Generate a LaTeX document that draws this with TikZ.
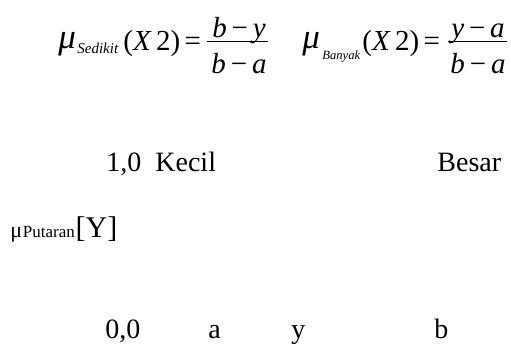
\documentclass[tikz,border=0pt]{standalone}
\usepackage{fontspec}
\setmainfont{Liberation Serif}
\usepackage{tikz}

\begin{document}
\begin{tikzpicture}[x=0.5pt, y=-0.5pt,
    txt/.style={anchor=base west, inner sep=0pt, font=\fontsize{14}{16}\selectfont},
    frm/.style={anchor=base west, inner sep=0pt, font=\fontsize{14.5}{17}\selectfont},
    fracpart/.style={anchor=base, inner sep=0pt, font=\fontsize{14.5}{17}\selectfont},
    greek/.style={anchor=base west, inner sep=0pt, font=\fontsize{17.5}{20}\selectfont\itshape},
    idx/.style={anchor=base west, inner sep=0pt, font=\fontsize{7.5}{9}\selectfont\itshape},
    idxsmall/.style={anchor=base west, inner sep=0pt, font=\fontsize{6.3}{7}\selectfont\itshape},
    bar/.style={line width=0.5pt}
  ]
  \useasboundingbox (0,0) rectangle (511,345);

  % membership functions
  \node[greek] (muS)  at (58,48)  {μ};
  \node[idx]   (subS) at (77,53)  {Sedikit};
  \node[frm]   (lhsS) at (123,50) {(\textit{X}\hspace{0.15em}2)\hspace{0.15em}=};
  \coordinate (barSa) at (207,41.5);
  \coordinate (barSb) at (268,41.5);
  \draw[bar] (barSa) -- (barSb);
  \node[fracpart] (numS) at (239,37) {\textit{b}\,−\,\textit{y}};
  \node[fracpart] (denS) at (239,73) {\textit{b}\,−\,\textit{a}};

  \node[greek]    (muB)  at (302,48) {μ};
  \node[idxsmall] (subB) at (322,59) {Banyak};
  \node[frm]      (lhsB) at (362,50) {(\textit{X}\hspace{0.15em}2)\hspace{0.15em}=};
  \coordinate (barBa) at (448,41.5);
  \coordinate (barBb) at (507,41.5);
  \draw[bar] (barBa) -- (barBb);
  \node[fracpart] (numB) at (478,37) {\textit{y}\,−\,\textit{a}};
  \node[fracpart] (denB) at (478,73) {\textit{b}\,−\,\textit{a}};

  % axis labels
  \node[txt] (one)   at (106,171) {1,0\ \ Kecil};
  \node[txt] (besar) at (437,171) {Besar};

  \node[anchor=base west, inner sep=0pt, font=\fontsize{11}{13}\selectfont] (muP) at (10,237) {μ};
  \node[anchor=base west, inner sep=0pt, font=\fontsize{8.5}{10}\selectfont] (put) at (muP.base east) {Putaran};
  \node[anchor=base west, inner sep=0pt, font=\fontsize{15}{17}\selectfont] (ylab) at (put.base east) {[Y]};

  \node[txt] (zero) at (105,338) {0,0};
  \node[txt] (pa)   at (208,338) {a};
  \node[txt] (py)   at (291,338) {y};
  \node[txt] (pb)   at (434,338) {b};
\end{tikzpicture}
\end{document}
